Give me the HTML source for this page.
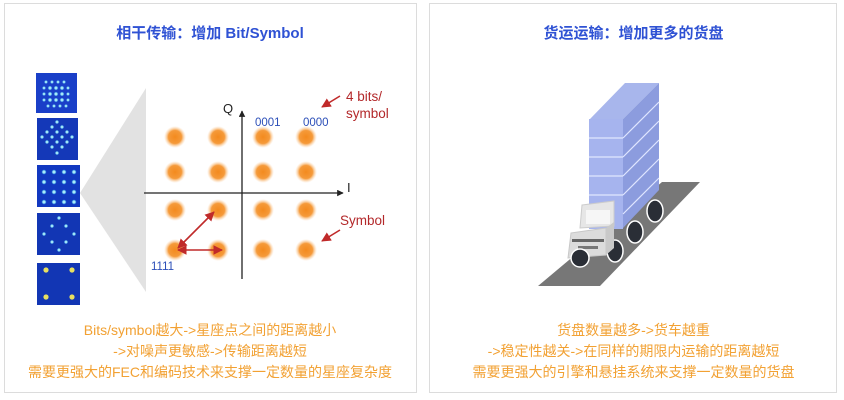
<!DOCTYPE html>
<html><head><meta charset="utf-8"><style>
html,body{margin:0;padding:0;background:#fff;}
body{width:844px;height:400px;overflow:hidden;position:relative;font-family:"Liberation Sans","Noto Sans CJK SC",sans-serif;}
.t{position:absolute;white-space:nowrap;}
</style></head><body>
<svg width="844" height="400" style="position:absolute;left:0;top:0">
<defs>
<radialGradient id="og"><stop offset="0" stop-color="#f38a1e"/><stop offset="0.6" stop-color="#f59a3a"/><stop offset="1" stop-color="#fbd2a6" stop-opacity="0"/></radialGradient>
<radialGradient id="bd"><stop offset="0" stop-color="#e8ffff"/><stop offset="0.6" stop-color="#6fd0f0"/><stop offset="1" stop-color="#3070e0" stop-opacity="0"/></radialGradient>
<marker id="ar" viewBox="0 0 10 10" refX="9" refY="5" markerWidth="6" markerHeight="6" orient="auto-start-reverse"><path d="M0,0L10,5L0,10z" fill="#c02a2a"/></marker>
<marker id="ak" viewBox="0 0 10 10" refX="9" refY="5" markerWidth="5" markerHeight="5" orient="auto"><path d="M0,0L10,5L0,10z" fill="#222"/></marker>
</defs>
<rect x="4.5" y="3.5" width="412" height="389" fill="#fff" stroke="#dcdcdc"/>
<rect x="429.5" y="3.5" width="407" height="389" fill="#fff" stroke="#dcdcdc"/>
<polygon points="80,193 146,88 146,292" fill="#e2e2e2"/>
<rect x="36" y="73" width="41" height="40" fill="#1a3fc8"/>
<g fill="url(#bd)">
<circle cx="46" cy="82" r="2"/><circle cx="52" cy="82" r="2"/><circle cx="58" cy="82" r="2"/><circle cx="64" cy="82" r="2"/>
<circle cx="44" cy="88" r="2"/><circle cx="50" cy="88" r="2.4"/><circle cx="56" cy="88" r="2.4"/><circle cx="62" cy="88" r="2.4"/><circle cx="68" cy="88" r="2"/>
<circle cx="44" cy="94" r="2"/><circle cx="50" cy="94" r="2.4"/><circle cx="56" cy="94" r="2.4"/><circle cx="62" cy="94" r="2.4"/><circle cx="68" cy="94" r="2"/>
<circle cx="44" cy="100" r="2"/><circle cx="50" cy="100" r="2.4"/><circle cx="56" cy="100" r="2.4"/><circle cx="62" cy="100" r="2.4"/><circle cx="68" cy="100" r="2"/>
<circle cx="48" cy="106" r="2"/><circle cx="54" cy="106" r="2"/><circle cx="60" cy="106" r="2"/><circle cx="66" cy="106" r="2"/>
</g>
<rect x="37" y="118" width="41" height="42" fill="#1438b8"/>
<g fill="url(#bd)">
<circle cx="57" cy="122" r="2.2"/><circle cx="52" cy="127" r="2.2"/><circle cx="62" cy="127" r="2.2"/>
<circle cx="47" cy="132" r="2.2"/><circle cx="57" cy="132" r="2.2"/><circle cx="67" cy="132" r="2.2"/>
<circle cx="42" cy="137" r="2.2"/><circle cx="52" cy="137" r="2.2"/><circle cx="62" cy="137" r="2.2"/><circle cx="72" cy="137" r="2.2"/>
<circle cx="47" cy="142" r="2.2"/><circle cx="57" cy="142" r="2.2"/><circle cx="67" cy="142" r="2.2"/>
<circle cx="52" cy="147" r="2.2"/><circle cx="62" cy="147" r="2.2"/><circle cx="57" cy="153" r="2.2"/>
</g>
<rect x="37" y="165" width="43" height="42" fill="#1238c0"/>
<g fill="url(#bd)">
<circle cx="44" cy="172" r="2.6"/><circle cx="54" cy="172" r="2.6"/><circle cx="64" cy="172" r="2.6"/><circle cx="74" cy="172" r="2.6"/>
<circle cx="44" cy="182" r="2.6"/><circle cx="54" cy="182" r="2.6"/><circle cx="64" cy="182" r="2.6"/><circle cx="74" cy="182" r="2.6"/>
<circle cx="44" cy="192" r="2.6"/><circle cx="54" cy="192" r="2.6"/><circle cx="64" cy="192" r="2.6"/><circle cx="74" cy="192" r="2.6"/>
<circle cx="44" cy="202" r="2.6"/><circle cx="54" cy="202" r="2.6"/><circle cx="64" cy="202" r="2.6"/><circle cx="74" cy="202" r="2.6"/>
</g>
<rect x="37" y="213" width="43" height="42" fill="#1236b4"/>
<g fill="url(#bd)">
<circle cx="59" cy="218" r="2.2"/><circle cx="52" cy="226" r="2.2"/><circle cx="66" cy="226" r="2.2"/>
<circle cx="44" cy="234" r="2.2"/><circle cx="74" cy="234" r="2.2"/>
<circle cx="52" cy="242" r="2.2"/><circle cx="66" cy="242" r="2.2"/><circle cx="59" cy="250" r="2.2"/>
</g>
<rect x="37" y="263" width="43" height="42" fill="#1236b4"/>
<g fill="#e8e060"><circle cx="46" cy="270" r="2.6"/><circle cx="72" cy="270" r="2.6"/><circle cx="46" cy="297" r="2.6"/><circle cx="72" cy="297" r="2.6"/></g>
<line x1="144" y1="193" x2="343" y2="193" stroke="#222" stroke-width="1.3" marker-end="url(#ak)"/>
<line x1="242" y1="279" x2="242" y2="111" stroke="#222" stroke-width="1.3" marker-end="url(#ak)"/>
<g fill="url(#og)">
<circle cx="175" cy="137" r="11"/><circle cx="218" cy="137" r="11"/><circle cx="263" cy="137" r="11"/><circle cx="306" cy="137" r="11"/>
<circle cx="175" cy="172" r="11"/><circle cx="218" cy="172" r="11"/><circle cx="263" cy="172" r="11"/><circle cx="306" cy="172" r="11"/>
<circle cx="175" cy="210" r="11"/><circle cx="218" cy="210" r="11"/><circle cx="263" cy="210" r="11"/><circle cx="306" cy="210" r="11"/>
<circle cx="175" cy="250" r="11"/><circle cx="218" cy="250" r="11"/><circle cx="263" cy="250" r="11"/><circle cx="306" cy="250" r="11"/>
</g>
<g stroke="#c02a2a" stroke-width="1.6" fill="none">
<line x1="178" y1="250" x2="222" y2="250" marker-start="url(#ar)" marker-end="url(#ar)"/>
<line x1="178" y1="248" x2="214" y2="212" marker-start="url(#ar)" marker-end="url(#ar)"/>
<line x1="340" y1="96" x2="322" y2="107" marker-end="url(#ar)"/>
<line x1="340" y1="230" x2="322" y2="241" marker-end="url(#ar)"/>
</g>
<polygon points="538,286 600,286 700,182 662,182" fill="#777"/>
<polygon points="590,119 625,83 659,83 623,119" fill="#a8b6ec"/>
<polygon points="623,119 659,83 659,190 623,228" fill="#8c9cde"/>
<rect x="589" y="119" width="34" height="110" fill="#a6b4ee"/>
<g stroke="#dfe6ff" stroke-width="1.2">
<line x1="589" y1="138" x2="623" y2="138"/><line x1="589" y1="157" x2="623" y2="157"/><line x1="589" y1="176" x2="623" y2="176"/><line x1="589" y1="195" x2="623" y2="195"/>
<line x1="623" y1="138" x2="659" y2="102"/><line x1="623" y1="157" x2="659" y2="121"/><line x1="623" y1="176" x2="659" y2="140"/><line x1="623" y1="195" x2="659" y2="159"/><line x1="623" y1="214" x2="659" y2="178"/>
</g>
<g fill="#2a2e36" stroke="#fff" stroke-width="1.5">
<ellipse cx="655" cy="211" rx="8" ry="11"/><ellipse cx="635" cy="232" rx="8" ry="11"/><ellipse cx="615" cy="251" rx="8" ry="11"/>
</g>
<polygon points="582,205 614,201 614,226 580,228" fill="#e6e6e6" stroke="#ccc"/>
<rect x="586" y="210" width="24" height="14" fill="#f6f6f6"/>
<polygon points="571,233 606,228 606,255 568,258" fill="#dcdcdc" stroke="#c8c8c8"/>
<polygon points="606,228 614,222 614,248 606,255" fill="#c9c9c9"/>
<rect x="572" y="239" width="32" height="3" fill="#666"/>
<rect x="578" y="246" width="20" height="3" fill="#777"/>
<ellipse cx="580" cy="258" rx="9" ry="9" fill="#2a2e36" stroke="#fff" stroke-width="1.5"/>
</svg>
<div class="t" style="left:0;width:420px;top:22px;text-align:center;font-size:15px;font-weight:bold;color:#2f52d4">相干传输：增加 Bit/Symbol</div>
<div class="t" style="left:430px;width:407px;top:22px;text-align:center;font-size:15px;font-weight:bold;color:#2f52d4">货运运输：增加更多的货盘</div>
<div class="t" style="left:223px;top:101px;font-size:13px;color:#222">Q</div>
<div class="t" style="left:347px;top:180px;font-size:13px;color:#222">I</div>
<div class="t" style="left:255px;top:117px;font-size:11.5px;color:#2c4fb8">0001</div>
<div class="t" style="left:303px;top:117px;font-size:11.5px;color:#2c4fb8">0000</div>
<div class="t" style="left:151px;top:261px;font-size:11.5px;color:#2c4fb8">1111</div>
<div class="t" style="left:346px;top:88px;font-size:13.5px;line-height:17px;color:#b3282a">4 bits/<br>symbol</div>
<div class="t" style="left:340px;top:213px;font-size:13.5px;color:#b3282a">Symbol</div>
<div class="t" style="left:0;width:420px;top:320px;text-align:center;font-size:14px;line-height:21px;color:#f2a133">Bits/symbol越大->星座点之间的距离越小<br>->对噪声更敏感->传输距离越短<br>需要更强大的FEC和编码技术来支撑一定数量的星座复杂度</div>
<div class="t" style="left:430px;width:407px;top:320px;text-align:center;font-size:14px;line-height:21px;color:#f2a133">货盘数量越多->货车越重<br>->稳定性越关->在同样的期限内运输的距离越短<br>需要更强大的引擎和悬挂系统来支撑一定数量的货盘</div>
</body></html>
